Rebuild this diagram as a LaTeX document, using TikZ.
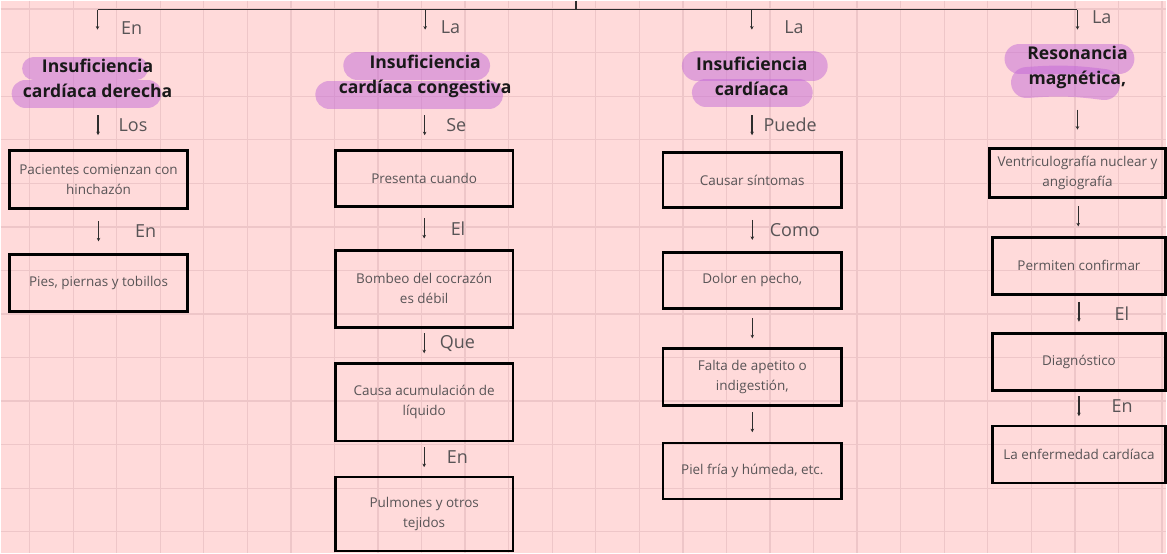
\documentclass[tikz,border=0pt]{standalone}
\usepackage{fontspec}
\setmainfont{Open Sans}
\usetikzlibrary{positioning,calc,arrows.meta}

\definecolor{fondo}{RGB}{255,218,218}
\definecolor{rejilla}{RGB}{238,198,200}
\definecolor{resalte}{RGB}{195,105,215}
\definecolor{textogris}{RGB}{88,84,86}
\definecolor{trazo}{RGB}{45,45,45}

\begin{document}
\begin{tikzpicture}[x=1pt, y=-1pt,
    caja/.style={draw=black, line width=2.6pt, align=center, text=textogris,
      font=\fontsize{13.5}{20}\selectfont, inner sep=0pt},
    titulo/.style={align=center, text=black!90,
      font=\fontsize{17.6}{24.5}\selectfont\bfseries},
    resaltado/.style={draw=resalte, opacity=0.5, line cap=round},
    flecha/.style={-{Stealth[length=3.5pt,width=3.5pt]}, line width=1.2pt, draw=trazo},
    etiqueta/.style={text=textogris, font=\fontsize{18}{20}\selectfont, inner sep=0pt}]

  % fondo y cuadricula
  \fill[fondo] (0,0) rectangle (1167,553);
  \foreach \i in {0,...,26}
    \draw[rejilla, line width=1.3pt] ({29+43.6*\i},0) -- ++(0,553);
  \foreach \j in {0,...,12}
    \draw[rejilla, line width=1.3pt] (0,{8.5+43.6*\j}) -- ++(1167,0);

  % resaltados
  \draw[resaltado, line width=23pt] (33,68) -- (136,68);
  \draw[resaltado, line width=28pt] (25,93) -- (147,93);
  \draw[resaltado, line width=28pt] (357,65) -- (476,65);
  \draw[resaltado, line width=28pt] (329,94) -- (489,94);
  \draw[resaltado, line width=30pt] (697,65) -- (813,65);
  \draw[resaltado, line width=28pt] (706,92) -- (799,92);
  \draw[resaltado, line width=30pt] (1020,58) -- (1120,58);
  \draw[resaltado, line width=31pt] (1027,82) to[bend left=6] (1105,84);

  % titulos
  \node[titulo] (derecha) at (97,78) {Insuficiencia\\cardíaca derecha};
  \node[titulo] (congestiva) at (425,76) {Insuficiencia\\cardíaca congestiva};
  \node[titulo] (cardiaca) at (752,76) {Insuficiencia\\cardíaca};
  \node[titulo] (resonancia) at (1078,67) {Resonancia\\magnética,};

  % conector superior
  \coordinate (arriba) at (576,0);
  \coordinate (barra) at (576,9);
  \draw[trazo, line width=1.3pt] (arriba) -- (barra);
  \draw[trazo, line width=1.3pt] (barra -| derecha) -- (barra -| resonancia);
  \draw[flecha] (barra -| derecha) -- ++(0,20)
    node[etiqueta, midway, right=23pt, yshift=-8pt] (en0) {En};
  \draw[flecha] (barra -| congestiva) -- ++(0,20)
    node[etiqueta, midway, right=15pt, yshift=-8pt] (la1) {La};
  \draw[flecha] (barra -| cardiaca) -- ++(0,20)
    node[etiqueta, midway, right=32pt, yshift=-8pt] (la2) {La};
  \draw[flecha] (barra -| resonancia) -- ++(0,20)
    node[etiqueta, midway, right=14pt, yshift=2pt] (la3) {La};

  % columna 1
  \node[caja, minimum width=178pt, minimum height=58pt] (pacientes) at (98,179)
    {Pacientes comienzan con\\hinchazón};
  \node[caja, minimum width=178pt, minimum height=57pt] (pies) at (98,282.5)
    {Pies, piernas y tobillos};

  % columna 2
  \node[caja, minimum width=178pt, minimum height=56pt] (presenta) at (424,178)
    {Presenta cuando};
  \node[caja, minimum width=178pt, minimum height=77pt] (bombeo) at (424,288.5)
    {Bombeo del cocrazón\\es débil};
  \node[caja, minimum width=178pt, minimum height=78pt] (causa) at (424,402)
    {Causa acumulación de\\líquido};
  \node[caja, minimum width=178pt, minimum height=74pt] (pulmones) at (424,514)
    {Pulmones y otros\\tejidos};

  % columna 3
  \node[caja, minimum width=179pt, minimum height=55pt] (sintomas) at (752.5,179.5)
    {Causar síntomas};
  \node[caja, minimum width=179pt, minimum height=56pt] (dolor) at (752.5,280)
    {Dolor en pecho,};
  \node[caja, minimum width=179pt, minimum height=57pt] (falta) at (752.5,376.5)
    {Falta de apetito o\\indigestión,};
  \node[caja, minimum width=179pt, minimum height=56pt] (piel) at (752.5,471)
    {Piel fría y húmeda, etc.};

  % columna 4
  \node[caja, minimum width=176pt, minimum height=49pt] (ventriculo) at (1078,172.5)
    {Ventriculografía nuclear y\\angiografía};
  \node[caja, minimum width=173pt, minimum height=57pt] (permiten) at (1079.5,265.5)
    {Permiten confirmar};
  \node[caja, minimum width=173pt, minimum height=57pt] (diagnostico) at (1079.5,361.5)
    {Diagnóstico};
  \node[caja, minimum width=173pt, minimum height=57pt] (enfermedad) at (1079.5,454.5)
    {La enfermedad cardíaca};

  % flechas
  \draw[flecha] ($(derecha.south)!.5!(pacientes.north)+(0,-10)$) -- ++(0,20)
    node[etiqueta, midway, right=20pt] (los) {Los};
  \draw[flecha] ($(pacientes.south)!.5!(pies.north)+(0,-10)$) -- ++(0,20)
    node[etiqueta, midway, right=36pt] (en1) {En};

  \draw[flecha] ($(congestiva.south)!.5!(presenta.north)+(0,-10)$) -- ++(0,20)
    node[etiqueta, midway, right=21pt] (se) {Se};
  \draw[flecha] ($(presenta.south)!.5!(bombeo.north)+(0,-10)$) -- ++(0,20)
    node[etiqueta, midway, right=26pt] (el1) {El};
  \draw[flecha] ($(bombeo.south)!.5!(causa.north)+(0,-12)$) -- ++(0,20)
    node[etiqueta, midway, right=15pt] (que) {Que};
  \draw[flecha] ($(causa.south)!.5!(pulmones.north)+(0,-12)$) -- ++(0,20)
    node[etiqueta, midway, right=22pt] (en2) {En};

  \draw[flecha] ($(cardiaca.south)!.5!(sintomas.north)+(0,-10)$) -- ++(0,20)
    node[etiqueta, midway, right=11pt] (puede) {Puede};
  \draw[flecha] ($(sintomas.south)!.5!(dolor.north)+(0,-10)$) -- ++(0,20)
    node[etiqueta, midway, right=17pt] (como) {Como};
  \draw[flecha] ($(dolor.south)!.5!(falta.north)+(0,-10)$) -- ++(0,20);
  \draw[flecha] ($(falta.south)!.5!(piel.north)+(0,-12)$) -- ++(0,20);

  \draw[flecha] ($(resonancia.south)!.5!(ventriculo.north)+(0,-10)$) -- ++(0,20);
  \draw[flecha] ($(ventriculo.south)!.5!(permiten.north)+(0,-11)$) -- ++(0,20);
  \draw[flecha] ($(permiten.south)!.5!(diagnostico.north)+(0,-12)$) -- ++(0,20)
    node[etiqueta, midway, right=35pt, yshift=-2pt] (el2) {El};
  \draw[flecha] ($(diagnostico.south)!.5!(enfermedad.north)+(0,-12)$) -- ++(0,20)
    node[etiqueta, midway, right=32pt] (en3) {En};

  \useasboundingbox (0,0) rectangle (1167,553);
\end{tikzpicture}
\end{document}
